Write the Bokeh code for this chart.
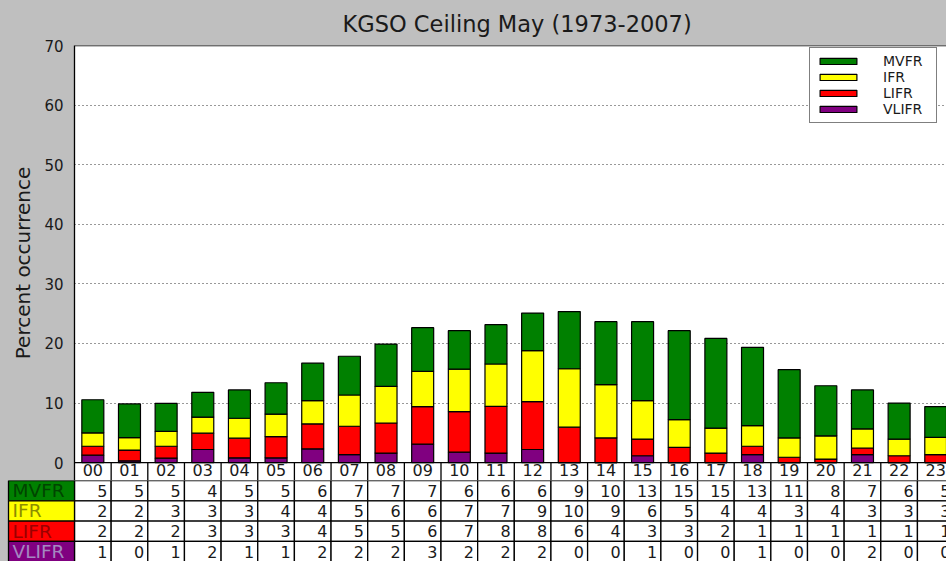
from bokeh.plotting import figure
from bokeh.models import Range1d, FixedTicker, Span, ColumnDataSource
from bokeh.layouts import column
from bokeh.core.properties import value
from bokeh.embed import file_html
from bokeh.resources import INLINE

# ---------------- data ----------------
hours = ["00", "01", "02", "03", "04", "05", "06", "07", "08", "09", "10", "11",
         "12", "13", "14", "15", "16", "17", "18", "19", "20", "21", "22", "23"]

series = ["VLIFR", "LIFR", "IFR", "MVFR"]

vlifr = [1.25, 0.3, 0.75, 2.2, 0.8, 0.8, 2.3, 1.35, 1.6, 3.1, 1.75, 1.6,
         2.2, 0.0, 0.0, 1.15, 0.0, 0.0, 1.35, 0.0, 0.0, 1.35, 0.0, 0.0]
lifr = [1.5, 1.8, 2.0, 2.75, 3.3, 3.55, 4.2, 4.75, 5.05, 6.3, 6.8, 7.85,
        8.05, 5.95, 4.15, 2.8, 2.55, 1.6, 1.4, 0.9, 0.6, 1.1, 1.15, 1.35]
ifr = [2.25, 2.1, 2.5, 2.7, 3.35, 3.8, 3.9, 5.25, 6.15, 5.9, 7.15, 7.1,
       8.55, 9.8, 8.95, 6.45, 4.65, 4.2, 3.45, 3.25, 3.9, 3.2, 2.8, 2.9]
mvfr = [5.55, 5.65, 4.7, 4.15, 4.75, 5.25, 6.3, 6.5, 7.1, 7.35, 6.45, 6.6,
        6.3, 9.6, 10.55, 13.25, 14.95, 15.05, 13.15, 11.45, 8.4, 6.55, 6.05, 5.15]

# values printed in the table
table_mvfr = [5, 5, 5, 4, 5, 5, 6, 7, 7, 7, 6, 6, 6, 9, 10, 13, 15, 15, 13, 11, 8, 7, 6, 5]
table_ifr = [2, 2, 3, 3, 3, 4, 4, 5, 6, 6, 7, 7, 9, 10, 9, 6, 5, 4, 4, 3, 4, 3, 3, 3]
table_lifr = [2, 2, 2, 3, 3, 3, 4, 5, 5, 6, 7, 8, 8, 6, 4, 3, 3, 2, 1, 1, 1, 1, 1, 1]
table_vlifr = [1, 0, 1, 2, 1, 1, 2, 2, 2, 3, 2, 2, 2, 0, 0, 1, 0, 0, 1, 0, 0, 2, 0, 0]

y_ticks = [0, 10, 20, 30, 40, 50, 60, 70]
title_text = "KGSO Ceiling May (1973-2007)"
y_label = "Percent occurrence"

# ---------------- styles ----------------
FONT = "DejaVu Sans"
GRAY = "#bfbfbf"
TXT = "#1a1a1a"
fill = {"MVFR": "#008000", "IFR": "#ffff00", "LIFR": "#ff0000", "VLIFR": "#800080"}
label_txt = {"MVFR": "#004400", "IFR": "#8c8c00", "LIFR": "#9a0000", "VLIFR": "#a488c0"}

W = 946
COL_PX = 36.65
LEFT_PX = 74            # frame left inside figure
FRAME_W = W - LEFT_PX
x_end = -0.5 + FRAME_W / COL_PX
HEADER_U = 3.0          # header row height in y units

x = list(range(len(hours)))

# ---------------- main figure ----------------
p1 = figure(width=W, height=480, output_backend="svg", toolbar_location=None,
            x_range=Range1d(-0.5, x_end), y_range=Range1d(-HEADER_U, 70),
            min_border_left=LEFT_PX, min_border_right=0, min_border_top=44,
            min_border_bottom=0, x_axis_location=None)
p1.frame_align = False
p1.border_fill_color = GRAY
p1.background_fill_color = "white"
p1.outline_line_color = None

p1.title.text = title_text
p1.title.text_font = FONT
p1.title.text_font_size = "22.5px"
p1.title.text_font_style = "normal"
p1.title.text_color = TXT
p1.title.align = "left"
p1.title.offset = 268
p1.title.standoff = 17

ax = p1.yaxis[0]
ax.ticker = FixedTicker(ticks=y_ticks)
ax.axis_label = y_label
ax.axis_label_text_font = FONT
ax.axis_label_text_font_size = "20px"
ax.axis_label_text_font_style = "normal"
ax.axis_label_text_color = TXT
ax.axis_label_standoff = 6
ax.major_label_text_font = FONT
ax.major_label_text_font_size = "15px"
ax.major_label_text_color = TXT
ax.major_label_standoff = 5
ax.major_tick_line_color = None
ax.minor_tick_line_color = None
ax.axis_line_color = "black"
ax.axis_line_width = 1.3

p1.xgrid.visible = False
p1.ygrid.ticker = FixedTicker(ticks=y_ticks[1:-1])
p1.ygrid.grid_line_color = "#333333"
p1.ygrid.grid_line_dash = "1 3"
p1.ygrid.grid_line_width = 1.2

src = ColumnDataSource(dict(x=x, VLIFR=vlifr, LIFR=lifr, IFR=ifr, MVFR=mvfr))
p1.vbar_stack(series, x="x", width=0.6, source=src,
              fill_color=[fill[s] for s in series], line_color="black",
              line_width=1.2, legend_label=series)

# header row of the table (inside main frame)
p1.add_layout(Span(location=0, dimension="width", line_color="black", line_width=1.3))
p1.add_layout(Span(location=70, dimension="width", line_color="black", line_width=1.5))
sep = [i + 0.5 for i in x]
p1.segment(x0=sep, x1=sep, y0=[-HEADER_U] * len(sep), y1=[0] * len(sep),
           line_color="black", line_width=1.3)
p1.text(x=x, y=[-HEADER_U / 2 + 0.27] * len(x), text=hours, text_align="center",
        text_baseline="middle", text_font=value(FONT), text_font_size="16px",
        text_color=TXT)

leg = p1.legend[0]
leg.items = list(reversed(leg.items))
leg.location = (735, 357)
leg.label_text_font = FONT
leg.label_text_font_size = "14px"
leg.label_text_color = TXT
leg.glyph_width = 46
leg.glyph_height = 8
leg.label_height = 15
leg.label_width = 48
leg.label_standoff = 22
leg.spacing = 0
leg.padding = 5
leg.margin = 0
leg.border_line_color = "black"
leg.border_line_width = 1.2
leg.background_fill_color = "white"
leg.background_fill_alpha = 1.0

# ---------------- table figure ----------------
ROW_PX = 20.3
H2 = 561 - 480
label_left = -0.5 - LEFT_PX / COL_PX
p2 = figure(width=W, height=H2, output_backend="svg", toolbar_location=None,
            x_range=Range1d(label_left, x_end), y_range=Range1d(H2 / ROW_PX, 0),
            min_border_left=0, min_border_right=0, min_border_top=0,
            min_border_bottom=0, x_axis_location=None, y_axis_location=None)
p2.frame_align = False
p2.border_fill_color = GRAY
p2.background_fill_color = GRAY
p2.outline_line_color = None
p2.grid.visible = False

rows = [("MVFR", table_mvfr), ("IFR", table_ifr), ("LIFR", table_lifr), ("VLIFR", table_vlifr)]
cell_left = label_left + 8 / COL_PX
for r, (name, vals) in enumerate(rows):
    n = len(vals)
    p2.quad(left=[i - 0.5 for i in x], right=[i + 0.5 for i in x],
            top=[r] * n, bottom=[r + 1] * n, fill_color="white",
            line_color="black", line_width=1.3)
    p2.text(x=[i + 0.5 - 0.1 for i in x], y=[r + 0.5] * n, text=[str(v) for v in vals],
            text_align="right", text_baseline="middle", text_font=value(FONT),
            text_font_size="16px", text_color=TXT)
    p2.quad(left=[cell_left], right=[-0.5], top=[r], bottom=[r + 1],
            fill_color=fill[name], line_color="black", line_width=1.3)
    p2.text(x=[cell_left + 0.11], y=[r + 0.5], text=[name], text_align="left",
            text_baseline="middle", text_font=value(FONT), text_font_size="18.5px",
            text_color=label_txt[name])

layout = column(p1, p2, spacing=0)

html = file_html(layout, INLINE, title="KGSO Ceiling May")
html = html.replace("</head>", "<style>body{background:#bfbfbf;}</style></head>", 1)
open("out.html", "w").write(html)
